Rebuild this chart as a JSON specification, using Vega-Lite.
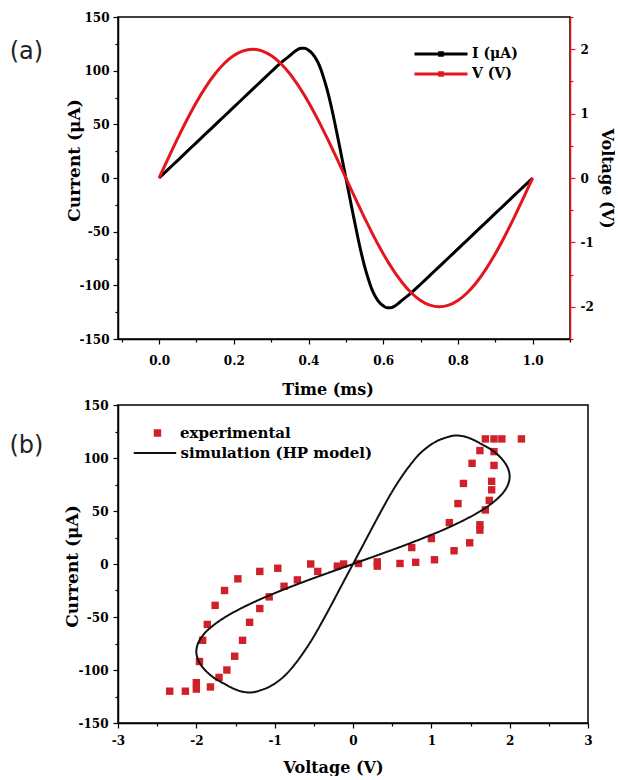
{
  "$schema": "https://vega.github.io/schema/vega-lite/v6.json",
  "padding": {"left": 8, "top": 10, "right": 0, "bottom": 0},
  "background": "white",
  "spacing": 0,
  "resolve": {
    "scale": {"color": "independent", "shape": "independent", "strokeDash": "independent"},
    "legend": {"color": "independent", "shape": "independent", "strokeDash": "independent"}
  },
  "datasets": {
    "hp": [
      {"t": 0, "v": 0, "i": 0},
      {"t": 0.025, "v": 0.313, "i": 8.3},
      {"t": 0.05, "v": 0.618, "i": 16.5},
      {"t": 0.075, "v": 0.908, "i": 24.8},
      {"t": 0.1, "v": 1.176, "i": 33},
      {"t": 0.125, "v": 1.414, "i": 41.3},
      {"t": 0.15, "v": 1.618, "i": 49.5},
      {"t": 0.175, "v": 1.782, "i": 57.8},
      {"t": 0.2, "v": 1.902, "i": 66},
      {"t": 0.225, "v": 1.975, "i": 74.3},
      {"t": 0.25, "v": 2.0, "i": 82.5},
      {"t": 0.275, "v": 1.975, "i": 90.8},
      {"t": 0.3, "v": 1.902, "i": 99},
      {"t": 0.325, "v": 1.782, "i": 107},
      {"t": 0.35, "v": 1.618, "i": 114},
      {"t": 0.36, "v": 1.541, "i": 117},
      {"t": 0.37, "v": 1.458, "i": 119.5},
      {"t": 0.38, "v": 1.369, "i": 121},
      {"t": 0.39, "v": 1.275, "i": 121},
      {"t": 0.4, "v": 1.176, "i": 119},
      {"t": 0.41, "v": 1.072, "i": 116},
      {"t": 0.42, "v": 0.964, "i": 111},
      {"t": 0.43, "v": 0.852, "i": 104},
      {"t": 0.44, "v": 0.736, "i": 94},
      {"t": 0.45, "v": 0.618, "i": 82},
      {"t": 0.46, "v": 0.497, "i": 68},
      {"t": 0.47, "v": 0.375, "i": 52},
      {"t": 0.48, "v": 0.251, "i": 35},
      {"t": 0.49, "v": 0.126, "i": 17.5},
      {"t": 0.5, "v": 0, "i": 0},
      {"t": 0.51, "v": -0.126, "i": -17.5},
      {"t": 0.52, "v": -0.251, "i": -35},
      {"t": 0.53, "v": -0.375, "i": -52},
      {"t": 0.54, "v": -0.497, "i": -68},
      {"t": 0.55, "v": -0.618, "i": -82},
      {"t": 0.56, "v": -0.736, "i": -94},
      {"t": 0.57, "v": -0.852, "i": -104},
      {"t": 0.58, "v": -0.964, "i": -111},
      {"t": 0.59, "v": -1.072, "i": -116},
      {"t": 0.6, "v": -1.176, "i": -119},
      {"t": 0.61, "v": -1.275, "i": -121},
      {"t": 0.62, "v": -1.369, "i": -121},
      {"t": 0.63, "v": -1.458, "i": -119.5},
      {"t": 0.64, "v": -1.541, "i": -117},
      {"t": 0.65, "v": -1.618, "i": -114},
      {"t": 0.675, "v": -1.782, "i": -107},
      {"t": 0.7, "v": -1.902, "i": -99},
      {"t": 0.725, "v": -1.975, "i": -90.8},
      {"t": 0.75, "v": -2.0, "i": -82.5},
      {"t": 0.775, "v": -1.975, "i": -74.3},
      {"t": 0.8, "v": -1.902, "i": -66},
      {"t": 0.825, "v": -1.782, "i": -57.8},
      {"t": 0.85, "v": -1.618, "i": -49.5},
      {"t": 0.875, "v": -1.414, "i": -41.3},
      {"t": 0.9, "v": -1.176, "i": -33},
      {"t": 0.925, "v": -0.908, "i": -24.8},
      {"t": 0.95, "v": -0.618, "i": -16.5},
      {"t": 0.975, "v": -0.313, "i": -8.3},
      {"t": 1.0, "v": 0, "i": 0}
    ],
    "exp": [
      {"v": 1.69, "i": 118}, {"v": 1.8, "i": 118}, {"v": 1.9, "i": 118}, {"v": 2.15, "i": 118},
      {"v": 1.62, "i": 107}, {"v": 1.8, "i": 106},
      {"v": 1.52, "i": 95}, {"v": 1.8, "i": 93},
      {"v": 1.41, "i": 76}, {"v": 1.77, "i": 78}, {"v": 1.77, "i": 70},
      {"v": 1.34, "i": 57}, {"v": 1.74, "i": 60}, {"v": 1.69, "i": 51},
      {"v": 1.62, "i": 37}, {"v": 1.62, "i": 32},
      {"v": 1.23, "i": 39}, {"v": 1.0, "i": 24}, {"v": 1.49, "i": 20}, {"v": 1.29, "i": 12.5},
      {"v": 0.75, "i": 15.5}, {"v": 1.04, "i": 4}, {"v": 0.8, "i": 1.6}, {"v": 0.6, "i": 0.5},
      {"v": 0.31, "i": 2}, {"v": 0.31, "i": -2}, {"v": 0.07, "i": 0.5}, {"v": -0.12, "i": 0}, {"v": -0.2, "i": -2}, {"v": -0.54, "i": 0},
      {"v": -0.45, "i": -7}, {"v": -0.71, "i": -15}, {"v": -0.88, "i": -21}, {"v": -0.96, "i": -4}, {"v": -1.19, "i": -7},
      {"v": -1.07, "i": -31}, {"v": -1.19, "i": -42}, {"v": -1.32, "i": -55},
      {"v": -1.47, "i": -14}, {"v": -1.64, "i": -25}, {"v": -1.76, "i": -39}, {"v": -1.86, "i": -57}, {"v": -1.92, "i": -72}, {"v": -1.96, "i": -92},
      {"v": -1.41, "i": -72}, {"v": -1.51, "i": -87}, {"v": -1.61, "i": -100}, {"v": -1.71, "i": -107}, {"v": -1.82, "i": -116},
      {"v": -2.0, "i": -112}, {"v": -2.0, "i": -118}, {"v": -2.14, "i": -120}, {"v": -2.34, "i": -120}
    ]
  },
  "config": {
    "view": {"stroke": "black", "strokeWidth": 1.5},
    "axis": {
      "grid": false,
      "labelFont": "DejaVu Serif",
      "labelFontWeight": "bold",
      "labelFontSize": 12,
      "labelColor": "black",
      "titleFont": "DejaVu Serif",
      "titleFontWeight": "bold",
      "titleFontSize": 16,
      "titleColor": "black",
      "domainColor": "black",
      "domainWidth": 1.5,
      "tickColor": "black",
      "tickWidth": 1.2,
      "labelOverlap": false,
      "labelFlush": false
    }
  },
  "vconcat": [
    {
      "width": 452,
      "height": 322,
      "layer": [
        {
          "data": {"name": "hp"},
          "mark": {"type": "line", "strokeWidth": 3, "interpolate": "monotone"},
          "encoding": {
            "x": {
              "field": "t", "type": "quantitative",
              "scale": {"domain": [-0.11, 1.1], "nice": false, "zero": false},
              "axis": {
                "title": "Time (ms)",
                "values": [-0.1, 0, 0.1, 0.2, 0.3, 0.4, 0.5, 0.6, 0.7, 0.8, 0.9, 1, 1.1],
                "tickCount": 100,
                "format": ".1f",
                "labelExpr": "indexof([0, 0.2, 0.4, 0.6, 0.8, 1], datum.value) >= 0 ? datum.label : ''",
                "tickSize": {"condition": {"test": "indexof([0, 0.2, 0.4, 0.6, 0.8, 1], datum.value) >= 0", "value": 5}, "value": 3},
                "labelPadding": 11,
                "titleX": 209.5,
                "titleY": 50,
                "titleBaseline": "middle",
                "titleAlign": "center"
              }
            },
            "y": {
              "field": "i", "type": "quantitative",
              "scale": {"domain": [-150, 150], "nice": false},
              "axis": {
                "orient": "left",
                "title": "Current (μA)",
                "titleFontSize": 17,
                "values": [-150, -125, -100, -75, -50, -25, 0, 25, 50, 75, 100, 125, 150],
                "tickCount": 100,
                "labelExpr": "datum.value % 50 == 0 ? datum.value + '' : ''",
                "tickSize": {"condition": {"test": "datum.value % 50 == 0", "value": 5}, "value": 3},
                "labelPadding": 4,
                "titleX": -43.5,
                "titleY": 143,
                "titleBaseline": "middle",
                "titleAlign": "center",
                "titleAngle": -90
              }
            },
            "color": {
              "datum": "I (μA)",
              "scale": {"domain": ["I (μA)", "V (V)"], "range": ["#000000", "#e3161e"]},
              "legend": {
                "title": null,
                "orient": "none",
                "legendX": 295,
                "legendY": 27,
                "padding": 0,
                "rowPadding": 0,
                "clipHeight": 20,
                "symbolType": "M-1,0L1,0M-0.05,-0.05L0.05,-0.05L0.05,0.05L-0.05,0.05Z",
                "symbolSize": 2809,
                "symbolStrokeWidth": 3,
                "labelFont": "DejaVu Serif",
                "labelFontWeight": "bold",
                "labelFontSize": 14,
                "labelColor": "black",
                "labelOffset": 3
              }
            }
          }
        },
        {
          "data": {"name": "hp"},
          "mark": {"type": "line", "strokeWidth": 3, "interpolate": "monotone"},
          "encoding": {
            "x": {"field": "t", "type": "quantitative"},
            "y": {
              "field": "v", "type": "quantitative",
              "scale": {"domain": [-2.5, 2.5], "nice": false},
              "axis": {
                "orient": "right",
                "title": "Voltage (V)",
                "values": [-2.5, -2, -1.5, -1, -0.5, 0, 0.5, 1, 1.5, 2, 2.5],
                "tickCount": 100,
                "labelExpr": "datum.value % 1 == 0 ? datum.value + '' : ''",
                "tickSize": {"condition": {"test": "datum.value % 1 == 0", "value": 5}, "value": 3},
                "labelPadding": 5,
                "domainColor": "#e3161e",
                "tickColor": "#e3161e",
                "titleX": 36,
                "titleY": 161,
                "titleBaseline": "middle",
                "titleAlign": "center",
                "titleAngle": 90
              }
            },
            "color": {"datum": "V (V)"}
          }
        },
        {
          "data": {"values": [{}]},
          "mark": {"type": "text", "text": "(a)", "font": "DejaVu Sans", "fontSize": 24, "align": "left", "baseline": "middle", "color": "#222222"},
          "encoding": {
            "x": {"datum": -0.4, "type": "quantitative"},
            "y": {"datum": 117.4, "type": "quantitative", "scale": {"domain": [-150, 150], "nice": false}, "axis": null}
          }
        }
      ],
      "resolve": {"scale": {"y": "independent"}}
    },
    {
      "width": 470,
      "height": 318,
      "layer": [
        {
          "data": {"name": "exp"},
          "mark": {"type": "point", "shape": "square", "filled": true, "size": 55, "opacity": 1, "color": "#d0202a"},
          "encoding": {
            "x": {
              "field": "v", "type": "quantitative",
              "scale": {"domain": [-3, 3], "nice": false, "zero": false},
              "axis": {
                "title": "Voltage (V)",
                "values": [-3, -2.5, -2, -1.5, -1, -0.5, 0, 0.5, 1, 1.5, 2, 2.5, 3],
                "tickCount": 100,
                "labelExpr": "datum.value % 1 == 0 ? datum.value + '' : ''",
                "tickSize": {"condition": {"test": "datum.value % 1 == 0", "value": 5}, "value": 3},
                "labelPadding": 7,
                "titleX": 215,
                "titleY": 44,
                "titleBaseline": "middle",
                "titleAlign": "center"
              }
            },
            "y": {
              "field": "i", "type": "quantitative",
              "scale": {"domain": [-150, 150], "nice": false},
              "axis": {
                "title": "Current (μA)",
                "titleFontSize": 17,
                "values": [-150, -125, -100, -75, -50, -25, 0, 25, 50, 75, 100, 125, 150],
                "tickCount": 100,
                "labelExpr": "datum.value % 50 == 0 ? datum.value + '' : ''",
                "tickSize": {"condition": {"test": "datum.value % 50 == 0", "value": 5}, "value": 3},
                "labelPadding": 5,
                "titleX": -45.5,
                "titleY": 161,
                "titleBaseline": "middle",
                "titleAlign": "center",
                "titleAngle": -90
              }
            },
            "shape": {
              "datum": "experimental",
              "scale": {"domain": ["experimental"], "range": ["square"]},
              "legend": {
                "title": null,
                "orient": "none",
                "legendX": 32,
                "legendY": 18,
                "padding": 0,
                "rowPadding": 0,
                "clipHeight": 20,
                "symbolSize": 55,
                "symbolFillColor": "#d0202a",
                "symbolStrokeWidth": 0,
                "labelFont": "DejaVu Serif",
                "labelFontWeight": "bold",
                "labelFontSize": 15,
                "labelColor": "black",
                "labelOffset": 15,
                "labelLimit": 300
              }
            }
          }
        },
        {
          "data": {"name": "hp"},
          "mark": {"type": "line", "strokeWidth": 2, "interpolate": "catmull-rom", "color": "#111111"},
          "encoding": {
            "x": {"field": "v", "type": "quantitative"},
            "y": {"field": "i", "type": "quantitative"},
            "order": {"field": "t"},
            "strokeDash": {
              "datum": "simulation (HP model)",
              "scale": {"domain": ["simulation (HP model)"], "range": [[1, 0]]},
              "legend": {
                "title": null,
                "orient": "none",
                "legendX": 14.5,
                "legendY": 38,
                "padding": 0,
                "rowPadding": 0,
                "clipHeight": 20,
                "symbolType": "stroke",
                "symbolSize": 1806,
                "symbolStrokeColor": "#111111",
                "symbolStrokeWidth": 2,
                "labelFont": "DejaVu Serif",
                "labelFontWeight": "bold",
                "labelFontSize": 15,
                "labelColor": "black",
                "labelOffset": 3,
                "labelLimit": 300
              }
            }
          }
        },
        {
          "data": {"values": [{}]},
          "mark": {"type": "text", "text": "(b)", "font": "DejaVu Sans", "fontSize": 24, "align": "left", "baseline": "middle", "color": "#222222"},
          "encoding": {
            "x": {"datum": -4.385, "type": "quantitative"},
            "y": {"datum": 111.3, "type": "quantitative"}
          }
        }
      ]
    }
  ]
}
